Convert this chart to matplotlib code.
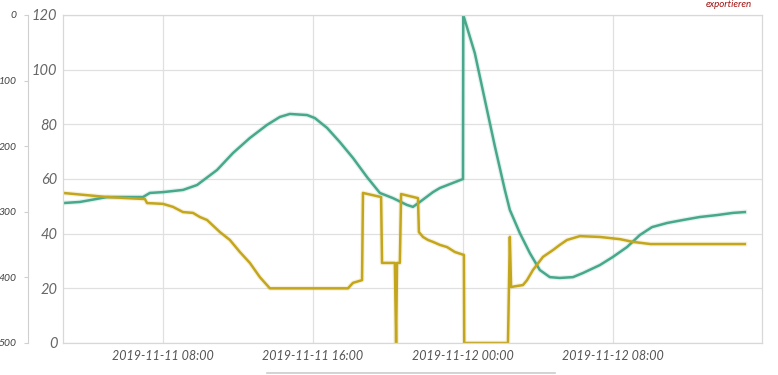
import matplotlib
matplotlib.use("Agg")
import matplotlib.pyplot as plt
import matplotlib.dates as mdates
from matplotlib.lines import Line2D
import pandas as pd

# green series (time, value)
green_times = [
    "2019-11-11 02:40", "2019-11-11 03:34", "2019-11-11 05:01", "2019-11-11 06:56",
    "2019-11-11 07:18", "2019-11-11 08:00", "2019-11-11 09:04", "2019-11-11 09:49",
    "2019-11-11 10:53", "2019-11-11 11:44", "2019-11-11 12:38", "2019-11-11 13:33",
    "2019-11-11 14:14", "2019-11-11 14:46", "2019-11-11 15:41", "2019-11-11 16:06",
    "2019-11-11 16:45", "2019-11-11 17:26", "2019-11-11 18:08", "2019-11-11 18:53",
    "2019-11-11 19:34", "2019-11-11 20:16", "2019-11-11 21:01", "2019-11-11 21:20",
    "2019-11-11 21:42", "2019-11-11 22:24", "2019-11-11 22:46", "2019-11-12 00:00",
    "2019-11-12 00:01", "2019-11-12 00:38", "2019-11-12 01:10", "2019-11-12 01:42",
    "2019-11-12 02:14", "2019-11-12 02:30", "2019-11-12 03:02", "2019-11-12 03:34",
    "2019-11-12 04:06", "2019-11-12 04:38", "2019-11-12 05:10", "2019-11-12 05:52",
    "2019-11-12 06:24", "2019-11-12 07:18", "2019-11-12 08:00", "2019-11-12 08:45",
    "2019-11-12 09:26", "2019-11-12 10:05", "2019-11-12 10:53", "2019-11-12 11:44",
    "2019-11-12 12:38", "2019-11-12 13:33", "2019-11-12 14:24", "2019-11-12 15:02",
]
green_values = [
    51.2, 51.6, 53.4, 53.4, 54.9, 55.2, 56.0, 57.8,
    63.3, 69.5, 75.0, 79.8, 82.7, 83.8, 83.4, 82.3,
    78.7, 73.5, 67.7, 60.7, 54.9, 53.0, 50.5, 49.8,
    51.6, 55.2, 56.7, 60.0, 120.0, 106.0, 89.0, 72.0,
    56.0, 48.7, 40.2, 32.9, 26.7, 24.1, 23.8, 24.1,
    25.6, 28.5, 31.5, 35.1, 39.5, 42.4, 43.9, 45.0,
    46.1, 46.8, 47.6, 47.9,
]

# yellow series (time, value)
yellow_times = [
    "2019-11-11 02:40", "2019-11-11 05:01", "2019-11-11 06:56", "2019-11-11 07:02",
    "2019-11-11 07:09", "2019-11-11 08:00", "2019-11-11 08:32", "2019-11-11 09:04",
    "2019-11-11 09:36", "2019-11-11 09:58", "2019-11-11 10:21", "2019-11-11 11:02",
    "2019-11-11 11:34", "2019-11-11 12:06", "2019-11-11 12:38", "2019-11-11 13:10",
    "2019-11-11 13:42", "2019-11-11 17:52", "2019-11-11 18:08", "2019-11-11 18:37",
    "2019-11-11 18:40", "2019-11-11 19:38", "2019-11-11 19:41", "2019-11-11 20:22",
    "2019-11-11 20:26", "2019-11-11 20:29", "2019-11-11 20:38", "2019-11-11 20:42",
    "2019-11-11 21:36", "2019-11-11 21:39", "2019-11-11 21:52", "2019-11-11 22:08",
    "2019-11-11 22:24", "2019-11-11 22:46", "2019-11-11 23:09", "2019-11-11 23:34",
    "2019-11-12 00:03", "2019-11-12 00:04", "2019-11-12 02:24", "2019-11-12 02:30",
    "2019-11-12 02:34", "2019-11-12 03:12", "2019-11-12 03:25", "2019-11-12 03:44",
    "2019-11-12 04:16", "2019-11-12 04:48", "2019-11-12 05:10", "2019-11-12 05:33",
    "2019-11-12 06:14", "2019-11-12 07:18", "2019-11-12 08:22", "2019-11-12 09:04",
    "2019-11-12 10:00", "2019-11-12 15:02",
]
yellow_values = [
    54.9, 53.4, 52.7, 52.7, 51.2, 50.9, 49.8, 47.9,
    47.6, 46.1, 45.0, 40.6, 37.7, 33.3, 29.3, 24.1,
    20.0, 20.0, 22.0, 23.0, 54.9, 53.4, 29.3, 29.3,
    0.0, 29.3, 29.3, 54.5, 53.0, 40.6, 38.8, 37.7,
    37.0, 35.9, 35.1, 33.3, 32.2, 0.0, 0.0, 38.8,
    20.5, 21.2, 23.0, 26.7, 31.5, 34.0, 35.9, 37.7,
    39.1, 38.8, 38.0, 37.0, 36.2, 36.2,
]

left_ticks = [0, 100, 200, 300, 400, 500]
main_ticks = [0, 20, 40, 60, 80, 100, 120]

green_color = "#48a88b"
yellow_color = "#c4a61c"
grid_color = "#e0e0e0"
text_color = "#666666"
font = "Lato"

W, H = 778, 375
fig = plt.figure(figsize=(W / 100, H / 100), dpi=100)

bottom = 1 - 343 / H
height = (343 - 15) / H
ax = fig.add_axes([63 / W, bottom, (762 - 63) / W, height])

gx = pd.to_datetime(green_times)
yx = pd.to_datetime(yellow_times)

# soft shadow under the lines
ax.plot(gx, green_values, color=green_color, lw=3.5, alpha=0.15, solid_joinstyle="round")
ax.plot(yx, yellow_values, color=yellow_color, lw=3.5, alpha=0.15, solid_joinstyle="round")
ax.plot(gx, green_values, color=green_color, lw=1.8, solid_joinstyle="round")
ax.plot(yx, yellow_values, color=yellow_color, lw=1.8, solid_joinstyle="round")

ax.set_xlim(pd.Timestamp("2019-11-11 02:40"), pd.Timestamp("2019-11-12 15:57"))
ax.set_ylim(0, 120)
ax.set_yticks(main_ticks)
ax.xaxis.set_major_locator(mdates.HourLocator(byhour=[0, 8, 16]))
ax.xaxis.set_major_formatter(mdates.DateFormatter("%Y-%m-%d %H:%M"))

ax.grid(True, color=grid_color, lw=0.9)
ax.set_axisbelow(True)
for s in ax.spines.values():
    s.set_color("#d8d8d8")
    s.set_linewidth(0.9)
ax.tick_params(axis="y", length=0, pad=4, labelsize=10.5, labelcolor=text_color)
ax.tick_params(axis="x", length=0, pad=5, labelsize=9, labelcolor="#555555")
for lbl in ax.get_yticklabels():
    lbl.set_fontstyle("italic")
    lbl.set_family(font)
for lbl in ax.get_xticklabels():
    lbl.set_fontstyle("italic")
    lbl.set_family(font)

# secondary left axis 0..500 inverted
ax2 = fig.add_axes([28 / W, bottom, 0.0001, height])
ax2.set_ylim(500, 0)
ax2.set_yticks(left_ticks)
ax2.get_xaxis().set_visible(False)
for k in ["top", "right", "bottom"]:
    ax2.spines[k].set_visible(False)
ax2.spines["left"].set_color("#d0d0d0")
ax2.patch.set_visible(False)
ax2.tick_params(axis="y", length=3, color="#d0d0d0", pad=5, labelsize=7.5, labelcolor="#444444")
for lbl in ax2.get_yticklabels():
    lbl.set_fontstyle("italic")
    lbl.set_family(font)

# export text top right and navigator line at bottom
fig.text(706 / W, 1.0, "exportieren", color="#a01010", fontsize=7, ha="left", va="top",
         fontstyle="italic", family=font)
fig.add_artist(Line2D([267 / W, 555 / W], [1 - 373 / H, 1 - 373 / H],
                      color="#cccccc", lw=1.2, transform=fig.transFigure))

fig.savefig("out.png", dpi=100)
